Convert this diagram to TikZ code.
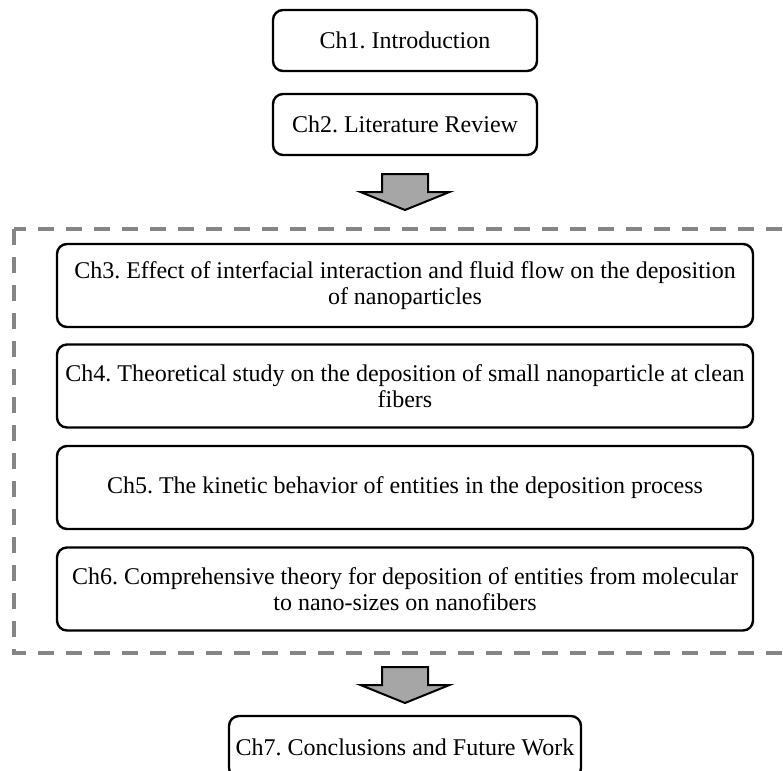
\documentclass[tikz,border=0pt]{standalone}
\usepackage{fontspec}
\setmainfont{Liberation Serif}
\frenchspacing
\definecolor{dashgray}{HTML}{858585}
\definecolor{arrowgray}{HTML}{A6A6A6}
\tikzset{
  chapbox/.style={draw, line width=1.2pt, rounded corners=5pt, align=center,
    font=\fontsize{12}{12.8}\selectfont, inner sep=0pt},
  smallbox/.style={chapbox, minimum width=132pt, minimum height=30.5pt},
  widebox/.style={chapbox, minimum width=348pt, minimum height=41.5pt},
  groupbox/.style={draw=dashgray, line width=1.6pt, dash pattern=on 8pt off 6pt},
  downarrow/.pic={
    \draw[line width=1pt, fill=arrowgray, line join=miter]
      (-23,0) -- (23,0) -- (23,18) -- (44.5,18) -- (0,36) -- (-44.5,18) -- (-23,18) -- cycle;
  }
}
\begin{document}
\begin{tikzpicture}[x=0.5pt,y=-0.5pt]
\useasboundingbox (0,0) rectangle (783,771);
\clip (0,0) rectangle (783,771);
% Opening chapters
\node[smallbox] (ch1) at (405,40.5) {Ch1. Introduction};
\node[smallbox] (ch2) at (405,124.5) {Ch2. Literature Review};
\pic at (405,174) {downarrow};
% Main studies
\draw[groupbox] (14,229) rectangle (800,653);
\node[widebox] (ch3) at (405,285.5) {Ch3. Effect of interfacial interaction and fluid flow on the deposition\\of nanoparticles};
\node[widebox] (ch4) at (405,386) {Ch4. Theoretical study on the deposition of small nanoparticle at clean\\fibers};
\node[widebox] (ch5) at (405,487.5) {Ch5. The kinetic behavior of entities in the deposition process};
\node[widebox] (ch6) at (405,589) {Ch6. Comprehensive theory for deposition of entities from molecular\\to nano-sizes on nanofibers};
% Closing chapter
\pic at (405,667) {downarrow};
\node[chapbox, minimum width=176pt, minimum height=31pt] (ch7) at (405,747) {Ch7. Conclusions and Future Work};
\end{tikzpicture}
\end{document}
